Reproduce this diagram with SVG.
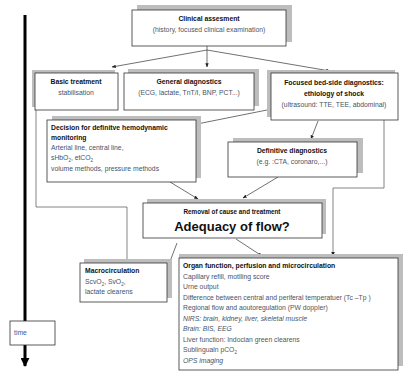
<svg xmlns="http://www.w3.org/2000/svg" width="404" height="372" viewBox="0 0 404 372">
<defs>
<marker id="ah" viewBox="0 0 10 10" refX="9" refY="5" markerWidth="6" markerHeight="6" orient="auto"><path d="M0,1 L10,5 L0,9 z" fill="#222"/></marker>
<marker id="big" viewBox="0 0 10 10" refX="9" refY="5" markerWidth="3" markerHeight="3" orient="auto"><path d="M0,0 L10,5 L0,10 z" fill="#000"/></marker>
<style>
.sh{fill:#bdbdbd}
.bx{fill:#fff;stroke:#333;stroke-width:0.8}
.t{font-family:"Liberation Sans",Arial,sans-serif;font-size:6.8px;fill:#44546a}
.b{font-weight:bold;fill:#111}
.g{fill:#555}
.i{font-style:italic}
.c{text-anchor:middle}
.ln{stroke:#333;stroke-width:0.7;fill:none}
.fr{stroke:#666;stroke-width:0.8;fill:none}
</style>
</defs>
<rect width="404" height="372" fill="#fff"/>

<g id="time">
<line x1="25" y1="15" x2="25" y2="366" stroke="#000" stroke-width="3" marker-end="url(#big)"/>
<rect x="10" y="321" width="45" height="24" class="bx"/>
<text x="14" y="335" class="t" style="fill:#3a5a9a">time</text>
</g>

<g id="connectors">
<path class="ln" d="M207,46 V50"/>
<path class="ln" d="M207,50 L112,67" marker-end="url(#ah)"/>
<path class="ln" d="M207,50 V67" marker-end="url(#ah)"/>
<path class="ln" d="M207,50 L330,71" marker-end="url(#ah)"/>
<path class="fr" d="M36,110 V207 H127 V263" marker-end="url(#ah)"/>
<path class="fr" d="M384,120 V188 H333 V256" marker-end="url(#ah)"/>
<path class="ln" d="M267,110 L197,124" marker-end="url(#ah)"/>
<path class="ln" d="M318,121 L311,139" marker-end="url(#ah)"/>
<path class="ln" d="M170,182 L198,199" marker-end="url(#ah)"/>
<path class="ln" d="M278,177 L243,198" marker-end="url(#ah)"/>
<path class="ln" d="M177,243 L169,264" marker-end="url(#ah)"/>
<path class="ln" d="M236,239 L262,256" marker-end="url(#ah)"/>
</g>

<g id="clinical">
<rect x="137" y="5" width="155" height="37" class="sh"/>
<rect x="132" y="10" width="154" height="36" class="bx"/>
<text x="209" y="21" class="t b c">Clinical assesment</text>
<text x="209" y="32" class="t g c">(history, focused clinical examination)</text>
</g>

<g id="basic">
<rect x="32" y="70" width="83" height="37" class="sh"/>
<rect x="35" y="73" width="83" height="37" class="bx"/>
<text x="76" y="84" class="t b c">Basic treatment</text>
<text x="76" y="95" class="t c">stabilisation</text>
</g>

<g id="general">
<rect x="128" y="69" width="131" height="37" class="sh"/>
<rect x="124" y="73" width="130" height="37" class="bx"/>
<text x="189" y="84" class="t b c">General diagnostics</text>
<text x="189" y="95" class="t c">(ECG, lactate, TnT/I, BNP, PCT...)</text>
</g>

<g id="focused">
<rect x="267" y="70" width="128" height="47" class="sh"/>
<rect x="271" y="73" width="127" height="47" class="bx"/>
<text x="334" y="85" class="t b c">Focused bed-side diagnostics:</text>
<text x="334" y="96" class="t b c">ethiology of shock</text>
<text x="334" y="107" class="t c">(ultrasound: TTE, TEE, abdominal)</text>
</g>

<g id="decision">
<rect x="52" y="116" width="149" height="62" class="sh"/>
<rect x="47" y="120" width="149" height="62" class="bx"/>
<text x="51" y="130" class="t b">Decision for definitve hemodynamic</text>
<text x="51" y="140" class="t b">monitoring</text>
<text x="51" y="150" class="t">Arterial line, central line,</text>
<text x="51" y="160" class="t">sHbO<tspan dy="1.5" font-size="4.5">2</tspan><tspan dy="-1.5">, etCO</tspan><tspan dy="1.5" font-size="4.5">2</tspan></text>
<text x="51" y="171" class="t">volume methods, pressure methods</text>
</g>

<g id="definitive">
<rect x="233" y="138" width="130" height="35" class="sh"/>
<rect x="228" y="142" width="129" height="35" class="bx"/>
<text x="292" y="153" class="t b c">Definitive diagnostics</text>
<text x="292" y="164" class="t c">(e.g. :CTA, coronaro,...)</text>
</g>

<g id="removal">
<rect x="147" y="199" width="179" height="35" class="sh"/>
<rect x="143" y="203" width="179" height="35" class="bx"/>
<text x="232" y="214" class="t b c" style="font-size:6.3px">Removal of cause and treatment</text>
<text x="232" y="231" class="t b c" style="font-size:13px">Adequacy of flow?</text>
</g>

<g id="macro">
<rect x="84" y="259" width="88" height="39" class="sh"/>
<rect x="80" y="263" width="87" height="39" class="bx"/>
<text x="85" y="273" class="t b">Macrocirculation</text>
<text x="85" y="284" class="t">ScvO<tspan dy="1.5" font-size="4.5">2</tspan><tspan dy="-1.5">, SvO</tspan><tspan dy="1.5" font-size="4.5">2</tspan><tspan dy="-1.5">,</tspan></text>
<text x="85" y="294" class="t">lactate clearens</text>
</g>

<g id="organ">
<rect x="179" y="254" width="224" height="112" class="sh"/>
<rect x="179" y="258" width="219" height="112" class="bx"/>
<text x="183" y="268" class="t b">Organ function, perfusion and  microcirculation</text>
<text x="183" y="278.5" class="t">Capillary refill, motlling score</text>
<text x="183" y="289" class="t g">Urne output</text>
<text x="183" y="299.5" class="t">Difference between central and periferal temperatuer <tspan class="g">(Tc –Tp )</tspan></text>
<text x="183" y="310" class="t">Regional flow and aoutoregulation <tspan class="g">(PW doppler)</tspan></text>
<text x="183" y="320.5" class="t i">NIRS: brain, kidney, liver, skeletal muscle</text>
<text x="183" y="331" class="t i">Brain: BIS, EEG</text>
<text x="183" y="341.5" class="t g">Liver function: Indocian green clearens</text>
<text x="183" y="352" class="t g">Sublingualn  pCO<tspan dy="1.5" font-size="4.5">2</tspan></text>
<text x="183" y="362.5" class="t i">OPS imaging</text>
</g>
</svg>
